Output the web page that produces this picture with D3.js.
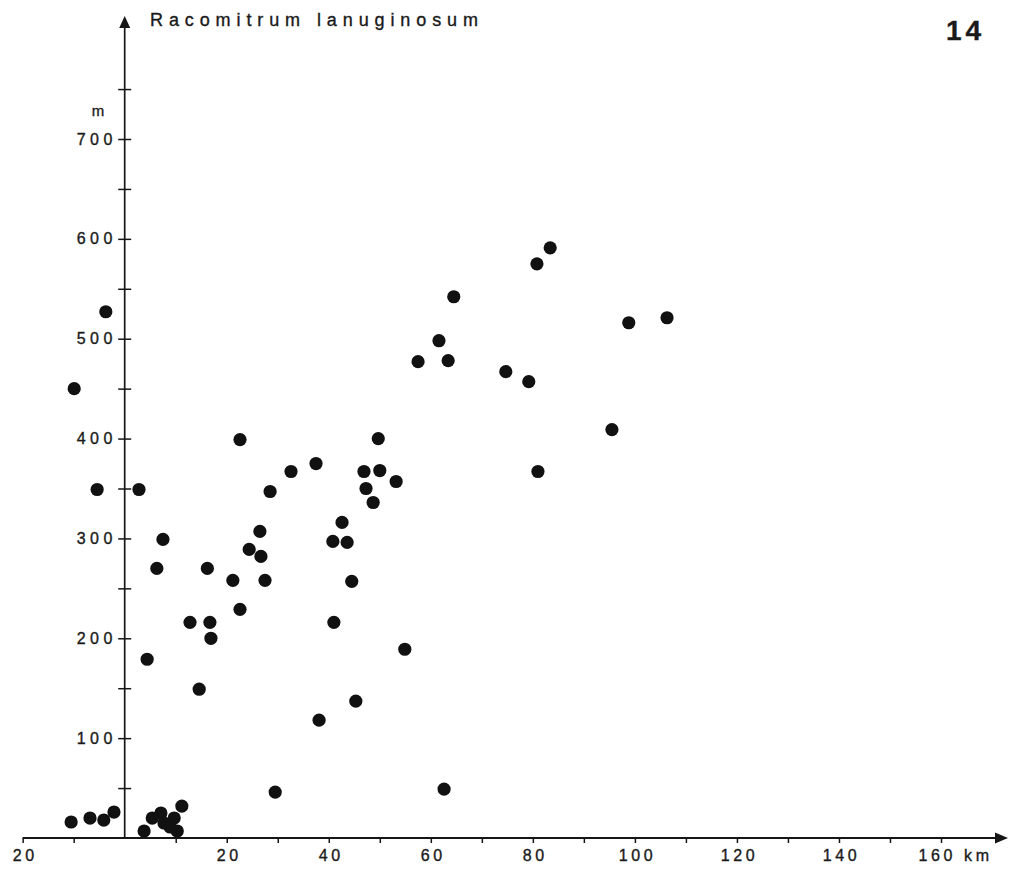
<!DOCTYPE html>
<html>
<head>
<meta charset="utf-8">
<script src="https://cdn.jsdelivr.net/npm/d3@7"></script>
<style>
  html, body { margin: 0; padding: 0; background: #fff; }
  svg { display: block; }
  text { font-family: "Liberation Sans", Arial, sans-serif; fill: #1a1a1a; stroke: #1a1a1a; stroke-width: 0.35px; }
</style>
</head>
<body>
<svg id="chart" width="1018" height="870"></svg>
<script>
// Distance from the coast (km, negative = other side) and altitude (m) of each record
const distanceKm = [
  -9.9, -3.7, -5.4, 2.8, 4.4, 6.3, 7.5, 12.8, 14.6, 16.2, 16.7, 16.9,
  21.2, 22.6, 22.6, 24.4, 26.5, 26.7, 27.5, 28.5, 32.6, 37.5, 38.1, 29.5,
  40.8, 41.0, 42.6, 43.6, 44.5, 45.3, 46.9, 47.3, 48.7, 49.7, 50.0, 53.2, 54.9,
  57.5, 61.6, 63.4, 64.5, 62.6, 74.7, 79.2, 80.8, 81.0, 83.4, 95.5, 98.8, 106.3,
  -10.5, -6.8, -4.1, -2.1, 3.8, 5.4, 7.1, 7.7, 8.9, 9.7, 10.3, 11.2
];
const altitudeM = [
  450, 527, 349, 349, 179, 270, 299, 216, 149, 270, 216, 200,
  258, 229, 399, 289, 307, 282, 258, 347, 367, 375, 118, 46,
  297, 216, 316, 296, 257, 137, 367, 350, 336, 400, 368, 357, 189,
  477, 498, 478, 542, 49, 467, 457, 575, 367, 591, 409, 516, 521,
  16, 20, 18, 26, 7, 20, 25, 15, 11, 20, 7, 32
];

const xTicks = d3.range(-20, 161, 10);
const xLabels = [-20, 20, 40, 60, 80, 100, 120, 140, 160];
const yTicks = d3.range(50, 751, 50);
const yLabels = [100, 200, 300, 400, 500, 600, 700];

const title = "Racomitrum lanuginosum";
const plateNumber = "14";

const svg = d3.select("#chart");
const ink = "#161616";

const x = d3.scaleLinear().domain([0, 160]).range([124.7, 941]);
const y = d3.scaleLinear().domain([0, 700]).range([838, 139]);

// X axis: ticks hang below the line, labels show absolute distance
const xAxis = d3.axisBottom(x)
  .tickValues(xTicks)
  .tickSize(5)
  .tickFormat(d => xLabels.includes(d) ? String(Math.abs(d)) : "");

const gx = svg.append("g")
  .attr("transform", `translate(0,${y(0)})`)
  .call(xAxis);
gx.select(".domain").remove();
gx.selectAll(".tick").filter(d => d === 0).remove();
gx.selectAll(".tick line").attr("stroke", ink).attr("stroke-width", 1.5);
gx.selectAll(".tick text")
  .attr("y", 12)
  .attr("dy", "0.71em")
  .style("font-size", "16px")
  .style("letter-spacing", "3.6px")
  .attr("dx", 2);
gx.selectAll(".tick").filter(d => d === 160).select("text")
  .text("160 km")
  .attr("text-anchor", "start")
  .attr("dx", -23);

// Y axis: ticks cross the line
const yAxis = d3.axisLeft(y)
  .tickValues(yTicks)
  .tickSize(6)
  .tickFormat(d => yLabels.includes(d) ? String(d) : "");

const gy = svg.append("g")
  .attr("transform", `translate(${x(0)},0)`)
  .call(yAxis);
gy.select(".domain").remove();
gy.selectAll(".tick line")
  .attr("x1", -6.5).attr("x2", 6.5)
  .attr("stroke", ink).attr("stroke-width", 1.5);
gy.selectAll(".tick text")
  .attr("x", -8)
  .style("font-size", "16px")
  .style("letter-spacing", "4.4px");

// Axis lines with arrowheads
const x0 = x(0), y0 = y(0);
svg.append("line")
  .attr("x1", x(-20)).attr("x2", 1000)
  .attr("y1", y0).attr("y2", y0)
  .attr("stroke", ink).attr("stroke-width", 1.8);
svg.append("path")
  .attr("d", `M1008,${y0} L995,${y0 - 5.5} L995,${y0 + 5.5} Z`)
  .attr("fill", ink);

svg.append("line")
  .attr("x1", x0).attr("x2", x0)
  .attr("y1", y0).attr("y2", 24)
  .attr("stroke", ink).attr("stroke-width", 1.7);
svg.append("path")
  .attr("d", `M${x0},16 L${x0 - 5.5},28 L${x0 + 5.5},28 Z`)
  .attr("fill", ink);

// Unit label on the altitude axis
svg.append("text")
  .attr("x", 98).attr("y", 116)
  .attr("text-anchor", "middle")
  .style("font-size", "15px")
  .text("m");

// Species name and plate number
svg.append("text")
  .attr("x", 150).attr("y", 26)
  .style("font-size", "18px")
  .style("letter-spacing", "5.9px")
  .text(title);

svg.append("text")
  .attr("x", 946).attr("y", 40)
  .style("font-size", "28px")
  .style("font-weight", "bold")
  .style("letter-spacing", "4px")
  .text(plateNumber);

// Records
svg.append("g")
  .selectAll("circle")
  .data(distanceKm.map((d, i) => ({ d, a: altitudeM[i] })))
  .join("circle")
  .attr("cx", p => x(p.d))
  .attr("cy", p => y(p.a))
  .attr("r", 6.6)
  .attr("fill", "#111");
</script>
</body>
</html>
